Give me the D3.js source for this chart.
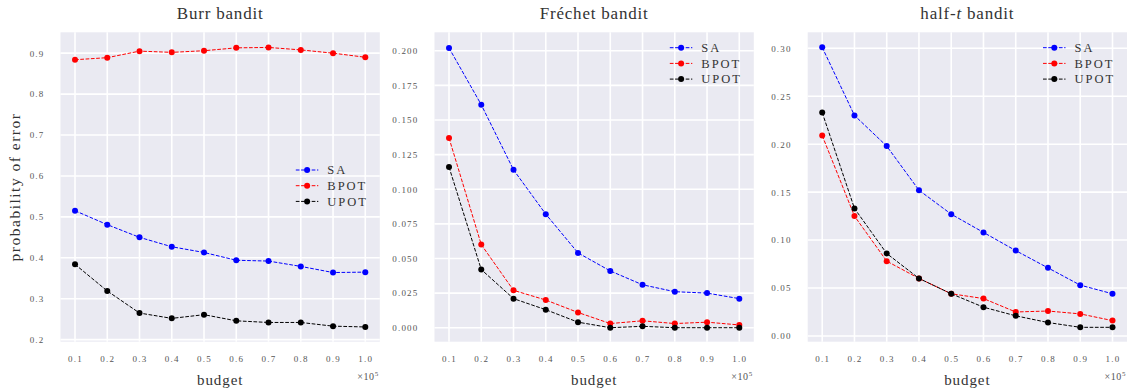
<!DOCTYPE html>
<html>
<head>
<meta charset="utf-8">
<script src="https://cdn.jsdelivr.net/npm/d3@7"></script>
<style>
  html, body { margin: 0; padding: 0; background: #fff; }
  svg { display: block; }
  text { font-family: "Liberation Serif", "DejaVu Serif", serif; }
</style>
</head>
<body>
<svg id="chart" width="1139" height="390"></svg>
<script>
// ---------- data ----------
const budgets = [0.1, 0.2, 0.3, 0.4, 0.5, 0.6, 0.7, 0.8, 0.9, 1.0];
const xTickLabels = ["0.1", "0.2", "0.3", "0.4", "0.5", "0.6", "0.7", "0.8", "0.9", "1.0"];
const seriesNames = ["SA", "BPOT", "UPOT"];
const seriesColors = ["#0000ff", "#ff0000", "#000000"];

const burrSA   = [0.515, 0.481, 0.450, 0.427, 0.413, 0.394, 0.392, 0.379, 0.364, 0.365];
const burrBPOT = [0.884, 0.889, 0.905, 0.902, 0.906, 0.913, 0.914, 0.908, 0.900, 0.890];
const burrUPOT = [0.384, 0.319, 0.265, 0.252, 0.261, 0.246, 0.242, 0.242, 0.233, 0.231];

const frechetSA   = [0.202, 0.161, 0.114, 0.082, 0.054, 0.041, 0.031, 0.026, 0.025, 0.021];
const frechetBPOT = [0.137, 0.060, 0.027, 0.020, 0.011, 0.003, 0.005, 0.003, 0.004, 0.002];
const frechetUPOT = [0.116, 0.042, 0.021, 0.013, 0.004, 0.000, 0.001, 0.000, 0.000, 0.000];

const halftSA   = [0.301, 0.230, 0.198, 0.152, 0.127, 0.108, 0.089, 0.071, 0.053, 0.044];
const halftBPOT = [0.209, 0.125, 0.078, 0.060, 0.044, 0.039, 0.025, 0.026, 0.023, 0.016];
const halftUPOT = [0.233, 0.133, 0.086, 0.060, 0.044, 0.030, 0.021, 0.014, 0.009, 0.009];

const burrYTicks    = [0.2, 0.3, 0.4, 0.5, 0.6, 0.7, 0.8, 0.9];
const frechetYTicks = [0.000, 0.025, 0.050, 0.075, 0.100, 0.125, 0.150, 0.175, 0.200];
const halftYTicks   = [0.00, 0.05, 0.10, 0.15, 0.20, 0.25, 0.30];

// ---------- layout ----------
const panels = [
  { title: ["Burr bandit"], series: [burrSA, burrBPOT, burrUPOT], yTicks: burrYTicks, fmt: d3.format(".1f"),
    yDomain: [0.195, 0.951], left: 60.5, legendTop: 170, ylabel: true },
  { title: ["Fréchet bandit"], series: [frechetSA, frechetBPOT, frechetUPOT], yTicks: frechetYTicks, fmt: d3.format(".3f"),
    yDomain: [-0.0101, 0.2133], left: 434.5, legendTop: 47.7 },
  { title: ["half-", "t", " bandit"], series: [halftSA, halftBPOT, halftUPOT], yTicks: halftYTicks, fmt: d3.format(".2f"),
    yDomain: [-0.006, 0.3167], left: 807.7, legendTop: 47.7 }
];
const pw = 319.3, plotTop = 32.3, plotBottom = 341.7;

const svg = d3.select("#chart");

panels.forEach((p) => {
  const x = d3.scaleLinear().domain([0.055, 1.045]).range([p.left, p.left + pw]);
  const y = d3.scaleLinear().domain(p.yDomain).range([plotBottom, plotTop]);
  const g = svg.append("g");

  g.append("rect").attr("x", p.left).attr("y", plotTop).attr("width", pw).attr("height", plotBottom - plotTop)
    .attr("fill", "#eaeaf2");

  // grid
  g.selectAll(".vg").data(budgets).enter().append("line")
    .attr("x1", d => x(d)).attr("x2", d => x(d)).attr("y1", plotTop).attr("y2", plotBottom)
    .attr("stroke", "#fff").attr("stroke-width", 1.6);
  g.selectAll(".hg").data(p.yTicks).enter().append("line")
    .attr("x1", p.left).attr("x2", p.left + pw).attr("y1", d => y(d)).attr("y2", d => y(d))
    .attr("stroke", "#fff").attr("stroke-width", 1.6);

  // axes labels via d3 axes
  const xAxis = d3.axisBottom(x).tickValues(budgets).tickFormat((d, i) => xTickLabels[i]).tickSize(0).tickPadding(14);
  const xa = g.append("g").attr("transform", `translate(0,${plotBottom})`).call(xAxis);
  const yAxis = d3.axisLeft(y).tickValues(p.yTicks).tickFormat(p.fmt).tickSize(0).tickPadding(16);
  const ya = g.append("g").attr("transform", `translate(${p.left},0)`).call(yAxis);
  [xa, ya].forEach(a => {
    a.select(".domain").remove();
    a.selectAll("text").attr("font-family", "Liberation Serif, serif").attr("font-size", 9)
      .attr("fill", "#555").attr("letter-spacing", 1.2);
  });

  // lines & markers
  const line = d3.line().x((d, i) => x(budgets[i])).y(d => y(d));
  p.series.forEach((s, k) => {
    g.append("path").attr("d", line(s)).attr("fill", "none").attr("stroke", seriesColors[k])
      .attr("stroke-width", 1).attr("stroke-dasharray", "3.7,1.6");
    g.selectAll(null).data(s).enter().append("circle")
      .attr("cx", (d, i) => x(budgets[i])).attr("cy", d => y(d)).attr("r", 3)
      .attr("fill", seriesColors[k]);
  });

  // title
  const t = g.append("text").attr("x", p.left + pw / 2).attr("y", 19).attr("text-anchor", "middle")
    .attr("font-size", 17).attr("fill", "#333").attr("letter-spacing", 0.8);
  p.title.forEach((part, i) => {
    t.append("tspan").text(part).attr("font-style", i === 1 ? "italic" : "normal");
  });

  // x label
  g.append("text").attr("x", p.left + pw / 2).attr("y", 385).attr("text-anchor", "middle")
    .attr("font-size", 15).attr("fill", "#333").attr("letter-spacing", 0.9).text("budget");

  // offset text
  const ot = g.append("text").attr("x", p.left + pw - 1).attr("y", 380).attr("text-anchor", "end")
    .attr("font-size", 10).attr("fill", "#555").attr("letter-spacing", 0.6);
  ot.append("tspan").text("×10");
  ot.append("tspan").text("5").attr("font-size", 7).attr("dy", -4);

  // y label
  if (p.ylabel) {
    g.append("text").attr("transform", `translate(20,${(plotTop + plotBottom) / 2}) rotate(-90)`)
      .attr("text-anchor", "middle").attr("font-size", 15.5).attr("fill", "#333").attr("letter-spacing", 1.5)
      .text("probability of error");
  }

  // legend
  const right = p.left + pw;
  seriesNames.forEach((name, k) => {
    const ly = p.legendTop + k * 15.7;
    g.append("line").attr("x1", right - 84).attr("x2", right - 61.5).attr("y1", ly).attr("y2", ly)
      .attr("stroke", seriesColors[k]).attr("stroke-width", 1).attr("stroke-dasharray", "3.7,1.6");
    g.append("circle").attr("cx", right - 72.7).attr("cy", ly).attr("r", 3).attr("fill", seriesColors[k]);
    g.append("text").attr("x", right - 52.5).attr("y", ly + 4.3).attr("font-size", 12.5)
      .attr("fill", "#333").attr("letter-spacing", 2).text(name);
  });
});
</script>
</body>
</html>
